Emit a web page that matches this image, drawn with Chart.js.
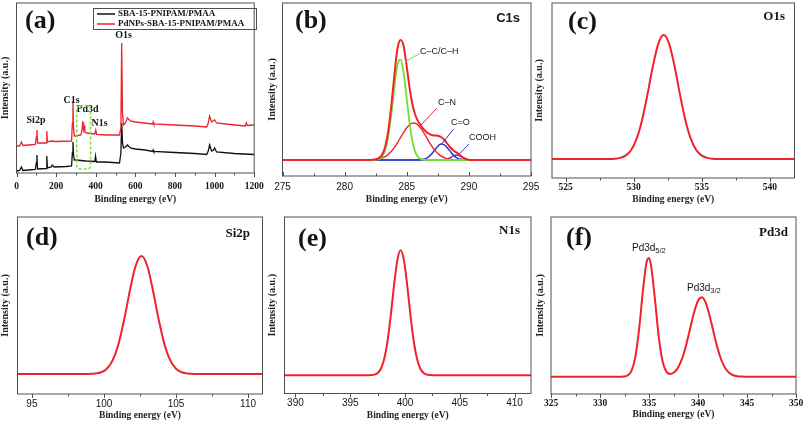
<!DOCTYPE html>
<html>
<head>
<meta charset="utf-8">
<title>XPS spectra</title>
<script src="https://cdn.jsdelivr.net/npm/chart.js@4.4.1/dist/chart.umd.min.js"></script>
<style>
  html, body { margin: 0; padding: 0; background: #fff; }
  body { width: 805px; height: 423px; position: relative; overflow: hidden; }
  canvas { position: absolute; }
</style>
</head>
<body>
<script>
// ============================================================
//  XPS spectra - six panels
// ============================================================

// ── (a) survey ─────────────────────────────────────────────
const surveyTicks = [0, 200, 400, 600, 800, 1000, 1200];
const surveyBlackEnergy = [0, 15, 25, 32, 60, 95, 100, 103, 106, 150, 153, 156, 175, 180, 190, 250, 278, 282, 285, 288, 292, 300, 350, 395, 399, 403, 450, 520, 527, 531, 535, 540, 550, 560, 575, 600, 650, 688, 690, 693, 800, 900, 960, 968, 975, 985, 995, 1000, 1010, 1100, 1200];
const surveyBlack = [2, 2.5, 6, 2.5, 3, 3.5, 10, 18, 4, 4.5, 17, 5, 6, 8, 6, 6.5, 7, 20, 31, 18, 13, 13, 12, 11.5, 17, 11, 11, 10, 20, 50, 30, 25, 26, 28, 25, 24, 23, 21.5, 23, 21.5, 20.5, 19.5, 18.5, 22, 28, 22, 23, 25, 21, 19.5, 18.5];
const surveyRedEnergy = [0, 15, 25, 32, 60, 95, 100, 103, 106, 150, 153, 156, 175, 200, 278, 282, 285, 288, 292, 300, 325, 330, 335, 338, 341, 345, 355, 395, 400, 405, 450, 520, 527, 531, 535, 540, 550, 560, 575, 600, 688, 690, 693, 800, 900, 960, 968, 975, 985, 1000, 1010, 1100, 1155, 1160, 1165, 1200];
const surveyRed = [27, 27, 31, 27.5, 28, 28.5, 36, 43, 30, 30, 42, 31, 32, 31.5, 32, 50, 72, 45, 37, 37, 38, 42, 52, 44, 47, 41, 40, 39, 43, 38.5, 38, 38, 45, 130, 60, 48, 50, 55, 52, 51, 49, 51, 49, 48, 47, 46, 50, 57, 51, 53, 50, 48, 47, 50, 47.5, 48];

// ── (b) C1s ────────────────────────────────────────────────
const c1sTicks = [275, 280, 285, 290, 295];
const c1sEnergy = [275, 281, 282, 282.25, 282.5, 282.75, 283, 283.25, 283.5, 283.75, 284, 284.25, 284.5, 284.75, 285, 285.25, 285.5, 285.75, 286, 286.25, 286.5, 286.75, 287, 287.25, 287.5, 287.75, 288, 288.25, 288.5, 288.75, 289, 289.25, 289.5, 289.75, 290, 290.25, 290.5, 291, 295];
const c1sEnvelope = [0, 0, 0.1, 0.3, 0.7, 1.9, 5, 12.6, 28.2, 53.5, 84.4, 111, 120, 114, 93.2, 70.5, 53.3, 43, 37, 32.5, 29, 26.5, 25, 24.5, 24.2, 23, 20.5, 16.5, 12.5, 9.5, 7.6, 5.2, 2.6, 1, 0.2, 0, 0, 0, 0];
const c1sCC = [0, 0, 0, 0, 0.2, 0.8, 3.1, 9.3, 22.7, 45, 72, 94.5, 100.6, 87, 61, 35, 16.3, 6.2, 1.9, 0.5, 0.1, 0, 0, 0, 0, 0, 0, 0, 0, 0, 0, 0, 0, 0, 0, 0, 0, 0, 0];
const c1sCN = [0, 0, 0.1, 0.3, 0.5, 1.1, 1.9, 3.3, 5.5, 8.5, 12.4, 17.2, 22.4, 27.7, 32.2, 35.5, 37, 36.3, 33.8, 29.6, 24.6, 19.2, 14.2, 9.9, 6.6, 4.1, 2.4, 1.3, 0.7, 0.4, 0.2, 0.1, 0, 0, 0, 0, 0, 0, 0];
const c1sCO = [0, 0, 0, 0, 0, 0, 0, 0, 0, 0, 0, 0, 0, 0, 0, 0, 0, 0, 0.2, 0.5, 1.4, 3.2, 6.1, 10, 13.8, 15.9, 15.4, 12.5, 8.6, 4.9, 2.4, 1, 0.3, 0.1, 0, 0, 0, 0, 0];
const c1sCOOH = [0, 0, 0, 0, 0, 0, 0, 0, 0, 0, 0, 0, 0, 0, 0, 0, 0, 0, 0, 0, 0, 0, 0, 0, 0, 0, 0.2, 0.9, 2.3, 4.1, 5, 4.1, 2.3, 0.9, 0.2, 0, 0, 0, 0];

// ── (c) O1s ────────────────────────────────────────────────
const o1sTicks = [525, 530, 535, 540];
const o1sEnergy = [524, 528.2, 528.6, 529, 529.4, 529.8, 530.2, 530.6, 531, 531.4, 531.8, 532.2, 532.6, 533, 533.4, 533.8, 534.2, 534.6, 535, 535.4, 535.8, 536.2, 541.8];
const o1s = [0, 0.1, 0.3, 1.1, 3.4, 8.8, 19.8, 38.3, 64.1, 92.5, 115.2, 124, 115.2, 92.5, 64.1, 38.3, 19.8, 8.8, 3.4, 1.1, 0.3, 0.1, 0];

// ── (d) Si2p ───────────────────────────────────────────────
const si2pTicks = [95, 100, 105, 110];
const si2pEnergy = [94, 98.6, 99, 99.4, 99.8, 100.2, 100.6, 101, 101.4, 101.8, 102.2, 102.6, 103, 103.4, 103.8, 104.2, 104.6, 105, 105.4, 105.8, 106.2, 106.6, 111];
const si2p = [0, 0, 0.1, 0.5, 1.7, 5.2, 13.6, 29.6, 54.2, 83.5, 108.2, 118, 108.2, 83.5, 54.2, 29.6, 13.6, 5.2, 1.7, 0.5, 0.1, 0, 0];

// ── (e) N1s ────────────────────────────────────────────────
const n1sTicks = [390, 395, 400, 405, 410];
const n1sEnergy = [389, 396.6, 396.9, 397.2, 397.5, 397.8, 398.1, 398.4, 398.7, 399, 399.3, 399.6, 399.9, 400.2, 400.5, 400.8, 401.1, 401.4, 401.7, 402, 402.3, 402.6, 411.5];
const n1s = [0, 0, 0.2, 0.7, 2.3, 6.6, 16.2, 33.8, 59.9, 90.1, 115.2, 125, 115.2, 90.1, 59.9, 33.8, 16.2, 6.6, 2.3, 0.7, 0.2, 0, 0];

// ── (f) Pd3d ───────────────────────────────────────────────
const pd3dTicks = [325, 330, 335, 340, 345, 350];
const pd3dEnergy = [325, 331.6, 332, 332.4, 332.8, 333.2, 333.6, 334, 334.4, 334.8, 335, 335.2, 335.6, 336, 336.4, 336.8, 337.2, 337.6, 338, 338.4, 338.8, 339.2, 339.6, 340, 340.4, 340.8, 341.2, 341.6, 342, 342.4, 342.8, 343.2, 343.6, 344, 344.4, 344.8, 350];
const pd3d = [0, 0, 0, 0.2, 1.2, 5.6, 19.3, 48.3, 87.9, 116.4, 118.7, 111.8, 78, 39.6, 14.7, 4.6, 2.7, 4.6, 9.8, 18.8, 32, 48.2, 64.2, 75.9, 79.4, 73.6, 60.5, 44, 28.4, 16.2, 8.2, 3.7, 1.5, 0.5, 0.2, 0, 0];

// ── Styles ─────────────────────────────────────────────────
const SERIF = "'Liberation Serif', 'Times New Roman', serif";
const SANS = "'Liberation Sans', Arial, sans-serif";
const RED = '#f0222b';
const INK = '#151515';

// page geometry of each plot box
const geo = {
    a: { left: 16.5, right: 256, top: 3, bottom: 173, yTitleX: 5, xTitleY: 200, tickY: 187 },
    b: { left: 282.5, right: 531, top: 3, bottom: 176, yTitleX: 272, xTitleY: 200, tickY: 187 },
    c: { left: 552, right: 794.5, top: 3, bottom: 178, yTitleX: 539, xTitleY: 200, tickY: 188 },
    d: { left: 17.5, right: 262.5, top: 217, bottom: 394, yTitleX: 5, xTitleY: 416, tickY: 404 },
    e: { left: 284.5, right: 531, top: 217, bottom: 393.5, yTitleX: 272, xTitleY: 416, tickY: 403 },
    f: { left: 551, right: 796, top: 217, bottom: 394, yTitleX: 540, xTitleY: 415, tickY: 404 }
};

const pts = (xs, ys) => xs.map((x, i) => ({ x, y: ys[i] }));
const line = (data, color, width, extra) => Object.assign({
    data, borderColor: color, borderWidth: width, pointRadius: 0, fill: false,
    cubicInterpolationMode: 'monotone'
}, extra || {});

function text(ctx, s, x, y, font, align) {
    ctx.font = font;
    ctx.textAlign = align || 'left';
    ctx.textBaseline = 'middle';
    ctx.fillStyle = INK;
    ctx.fillText(s, x, y);
}

// ── Frame, ticks and labels ────────────────────────────────
function frame(chart, cfg, px, py) {
    const { ctx, chartArea: a, scales: { x, y } } = chart;
    ctx.save();
    ctx.strokeStyle = '#505050';
    ctx.lineWidth = 1;
    ctx.strokeRect(a.left, a.top, a.right - a.left, a.bottom - a.top);

    const step = cfg.ticks[1] - cfg.ticks[0];
    const dir = cfg.inward ? -1 : 1;
    const marks = cfg.ticks.map(v => [v, 4]);
    [cfg.ticks[0] - step / 2, ...cfg.ticks.map(v => v + step / 2)].forEach(v => {
        if (v > x.min && v < x.max) marks.push([v, 2.5]);
    });
    ctx.beginPath();
    marks.forEach(([v, len]) => {
        const X = Math.round(x.getPixelForValue(v)) + 0.5;
        ctx.moveTo(X, a.bottom);
        ctx.lineTo(X, a.bottom + dir * len);
    });
    ctx.stroke();

    (cfg.texts || []).forEach(t => text(ctx, t[0], px(t[1]), py(t[2]), t[3], t[4]));
    if (cfg.extra) cfg.extra(chart, ctx, px, py);
    ctx.restore();
}

function panel(key, cfg) {
    const g = geo[key];
    const cl = Math.floor(g.yTitleX - 6);
    const ct = Math.floor(g.top - 3);
    const cw = Math.ceil(g.right + 16) - cl;
    const ch = Math.round(g.xTitleY + 5.4) - ct;
    const canvas = document.createElement('canvas');
    canvas.width = cw;
    canvas.height = ch;
    canvas.style.left = cl + 'px';
    canvas.style.top = ct + 'px';
    canvas.style.width = cw + 'px';
    canvas.style.height = ch + 'px';
    document.body.appendChild(canvas);
    const px = v => v - cl, py = v => v - ct;

    new Chart(canvas, {
        type: 'line',
        data: { datasets: cfg.datasets },
        options: {
            responsive: false, animation: false, devicePixelRatio: 1,
            layout: { padding: { top: g.top - ct, right: cw - (g.right - cl), left: 0, bottom: 0 } },
            plugins: { legend: { display: false }, tooltip: { enabled: false } },
            scales: {
                x: {
                    type: 'linear', min: cfg.xMin, max: cfg.xMax,
                    afterBuildTicks: s => { s.ticks = cfg.ticks.map(v => ({ value: v })); },
                    afterFit: s => { s.height = ct + ch - g.bottom; },
                    grid: { display: false, drawTicks: false },
                    border: { display: false },
                    ticks: {
                        autoSkip: false, maxRotation: 0, color: INK,
                        callback: v => String(v),
                        padding: g.tickY - g.bottom - cfg.tickSize * 0.6,
                        font: { family: cfg.tickFamily, size: cfg.tickSize, weight: cfg.tickWeight, lineHeight: 1.2 }
                    },
                    title: {
                        display: true, text: 'Binding energy (eV)', color: '#222', padding: 0,
                        font: { family: SERIF, size: 9.5, weight: 'bold', lineHeight: 1.2 }
                    }
                },
                y: {
                    type: 'linear', min: cfg.yMin, max: cfg.yMax,
                    afterFit: s => { s.width = g.left - cl; },
                    grid: { display: false, drawTicks: false },
                    border: { display: false },
                    ticks: { display: false },
                    title: {
                        display: true, text: 'Intensity (a.u.)', color: '#222', padding: 0,
                        font: { family: SERIF, size: 10, weight: 'bold', lineHeight: 1.2 }
                    }
                }
            }
        },
        plugins: [{ id: 'frame_' + key, afterDraw: chart => frame(chart, cfg, px, py) }]
    });
}

const BIG = 'bold 26px ' + SERIF;
const EL_SERIF = 'bold 13px ' + SERIF;

// (a) survey
panel('a', {
    xMin: 0, xMax: 1200, yMin: 0, yMax: 170, ticks: surveyTicks,
    tickFamily: SERIF, tickSize: 9.5, tickWeight: 'bold',
    datasets: [
        line(pts(surveyRedEnergy, surveyRed), RED, 1.3, { cubicInterpolationMode: 'default', tension: 0 }),
        line(pts(surveyBlackEnergy, surveyBlack), '#111', 1.3, { cubicInterpolationMode: 'default', tension: 0 })
    ],
    texts: [
        ['(a)', 25, 21.5, BIG],
        ['O1s', 123.5, 35, 'bold 10px ' + SERIF, 'center'],
        ['C1s', 71.5, 100, 'bold 10px ' + SERIF, 'center'],
        ['Pd3d', 87.5, 109, 'bold 10px ' + SERIF, 'center'],
        ['N1s', 99.5, 123, 'bold 10px ' + SERIF, 'center'],
        ['Si2p', 36, 120, 'bold 10px ' + SERIF, 'center']
    ],
    extra: (chart, ctx, px, py) => {
        const { x, y } = chart.scales;
        // dashed box round the Pd3d region
        const x0 = x.getPixelForValue(304), x1 = x.getPixelForValue(374);
        const y0 = y.getPixelForValue(67), y1 = y.getPixelForValue(4);
        ctx.strokeStyle = '#7fdc3a';
        ctx.lineWidth = 1.5;
        ctx.setLineDash([3, 2]);
        ctx.beginPath();
        ctx.roundRect(x0, y0, x1 - x0, y1 - y0, 3);
        ctx.stroke();
        ctx.setLineDash([]);
        // legend
        ctx.strokeStyle = '#505050';
        ctx.lineWidth = 1;
        ctx.strokeRect(px(93) + 0.5, py(8) + 0.5, 163, 21);
        [['SBA-15-PNIPAM/PMAA', '#111', 14], ['PdNPs-SBA-15-PNIPAM/PMAA', RED, 24]].forEach(([s, c, yy]) => {
            ctx.strokeStyle = c;
            ctx.lineWidth = 1.5;
            ctx.beginPath();
            ctx.moveTo(px(97), py(yy));
            ctx.lineTo(px(115), py(yy));
            ctx.stroke();
            text(ctx, s, px(118), py(yy), 'bold 9px ' + SERIF);
        });
    }
});

// (b) C1s
panel('b', {
    xMin: 275, xMax: 295, yMin: -16, yMax: 157, ticks: c1sTicks, inward: true,
    tickFamily: SANS, tickSize: 10, tickWeight: 'normal',
    datasets: [
        line(pts(c1sEnergy, c1sEnvelope), RED, 2),
        line(pts(c1sEnergy, c1sCC), '#6fe02c', 1.8),
        line(pts(c1sEnergy, c1sCN), RED, 1.4),
        line(pts(c1sEnergy, c1sCO), '#2b3cc6', 1.5),
        line(pts(c1sEnergy, c1sCOOH), '#4a46d0', 1.4)
    ],
    texts: [
        ['(b)', 295, 21.5, BIG],
        ['C1s', 520, 18, 'bold 13px ' + SANS, 'right'],
        ['C\u2013C/C\u2013H', 420, 52, '9px ' + SANS],
        ['C\u2013N', 438, 103, '9px ' + SANS],
        ['C=O', 451, 123, '9px ' + SANS],
        ['COOH', 469, 138, '9px ' + SANS]
    ],
    extra: (chart, ctx) => {
        const { x, y } = chart.scales;
        [[284.86, 98, 286.1, 107, '#6fe02c'], [286.15, 35, 287.41, 51.7, RED],
         [287.81, 16, 288.75, 30.7, '#2b3cc6'], [289.23, 6, 290.0, 16, '#4a46d0']].forEach(l => {
            ctx.strokeStyle = l[4];
            ctx.lineWidth = 1;
            ctx.beginPath();
            ctx.moveTo(x.getPixelForValue(l[0]), y.getPixelForValue(l[1]));
            ctx.lineTo(x.getPixelForValue(l[2]), y.getPixelForValue(l[3]));
            ctx.stroke();
        });
    }
});

// (c) O1s
panel('c', {
    xMin: 524, xMax: 541.8, yMin: -19, yMax: 156, ticks: o1sTicks,
    tickFamily: SERIF, tickSize: 9.5, tickWeight: 'bold',
    datasets: [line(pts(o1sEnergy, o1s), RED, 2)],
    texts: [['(c)', 568, 22, BIG], ['O1s', 785, 17, EL_SERIF, 'right']]
});

// (d) Si2p
panel('d', {
    xMin: 94, xMax: 111, yMin: -20, yMax: 157, ticks: si2pTicks,
    tickFamily: SANS, tickSize: 10, tickWeight: 'normal',
    datasets: [line(pts(si2pEnergy, si2p), RED, 2)],
    texts: [['(d)', 26, 238, BIG], ['Si2p', 250, 234, EL_SERIF, 'right']]
});

// (e) N1s
panel('e', {
    xMin: 389, xMax: 411.5, yMin: -18.2, yMax: 158.3, ticks: n1sTicks,
    tickFamily: SANS, tickSize: 10, tickWeight: 'normal',
    datasets: [line(pts(n1sEnergy, n1s), RED, 2)],
    texts: [['(e)', 298, 239, BIG], ['N1s', 520, 231, EL_SERIF, 'right']]
});

// (f) Pd3d
panel('f', {
    xMin: 325, xMax: 350, yMin: -17.3, yMax: 159.7, ticks: pd3dTicks,
    tickFamily: SERIF, tickSize: 9.5, tickWeight: 'bold',
    datasets: [line(pts(pd3dEnergy, pd3d), RED, 2)],
    texts: [['(f)', 566, 238, BIG], ['Pd3d', 788, 233, EL_SERIF, 'right']],
    extra: (chart, ctx, px, py) => {
        [['5/2', 632, 248], ['3/2', 687, 288]].forEach(([sub, xx, yy]) => {
            text(ctx, 'Pd3d', px(xx), py(yy), '10px ' + SANS);
            const w = ctx.measureText('Pd3d').width;
            text(ctx, sub, px(xx) + w, py(yy) + 3, '7.5px ' + SANS);
        });
    }
});
</script>
</body>
</html>
